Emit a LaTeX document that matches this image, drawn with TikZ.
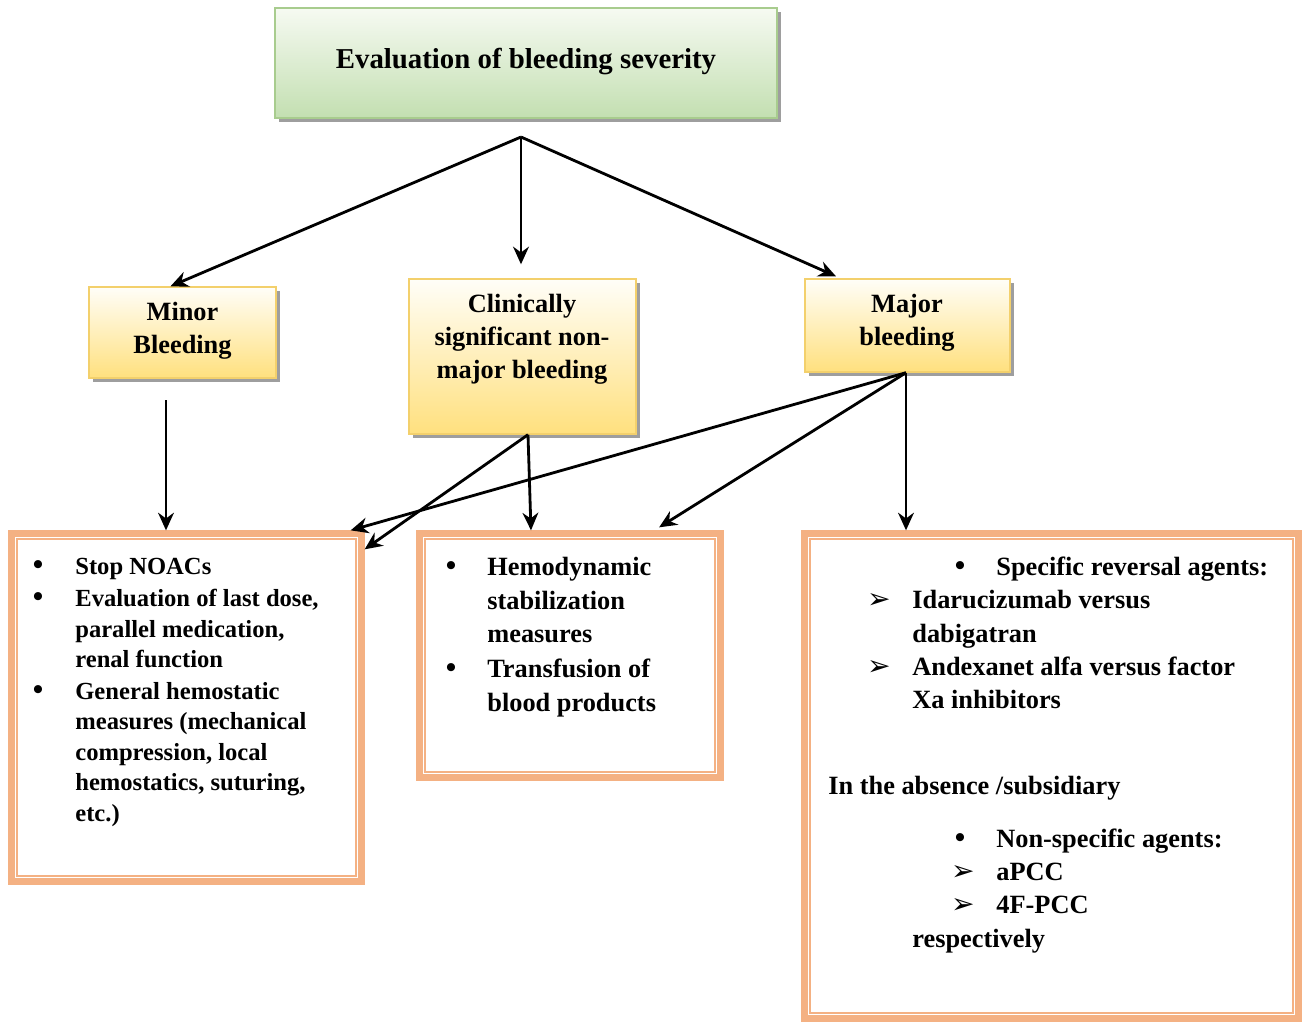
\documentclass[tikz,border=0pt]{standalone}
\usepackage{fontspec}
\setmainfont{Liberation Serif}
\newfontfamily\dingfont{DejaVu Sans}
\usetikzlibrary{arrows.meta,shadows,calc}
\definecolor{grtop}{HTML}{F6FAF2}
\definecolor{grbot}{HTML}{C3DFB1}
\definecolor{grline}{HTML}{A8CC8E}
\definecolor{yetop}{HTML}{FFFEF8}
\definecolor{yebot}{HTML}{FFE07E}
\definecolor{yeline}{HTML}{F3D06C}
\definecolor{salmon}{HTML}{F4B183}
\newcommand\tline[5]{\node[#1,anchor=base west] (#2) at (#3,#4) {#5};}
\newcommand\bul[3]{\node[bullettxt,anchor=base] (#1) at (#2,#3) {•};}
\newcommand\arw[3]{\node[arrowtxt,anchor=base] (#1) at (#2,#3) {\dingfont ➢};}
\begin{document}
\begin{tikzpicture}[x=0.02cm,y=-0.02cm,
  arr/.style={line width=1.6pt,-{Stealth[length=10pt,width=9pt]}},
  shd/.style={drop shadow={shadow xshift=2pt,shadow yshift=-2pt,fill=black!38,opacity=1}},
  greenbox/.style={draw=grline,line width=0.8pt,top color=grtop,bottom color=grbot,shd,inner sep=0pt},
  yellowbox/.style={draw=yeline,line width=0.8pt,top color=yetop,bottom color=yebot,shd,inner sep=0pt},
  outerbox/.style={draw=salmon,line width=3.6pt,fill=white,inner sep=0pt},
  innerline/.style={draw=salmon,line width=1pt},
  headtxt/.style={align=center,inner sep=0pt,font=\fontsize{15}{18.7}\selectfont\bfseries},
  ltxt/.style={inner sep=0pt,font=\fontsize{14}{17}\selectfont\bfseries},
  mtxt/.style={inner sep=0pt,font=\fontsize{15}{18}\selectfont\bfseries},
  bullettxt/.style={inner sep=0pt,font=\fontsize{17}{17}\selectfont\bfseries},
  arrowtxt/.style={inner sep=0pt,font=\fontsize{16}{16}\selectfont},
]
\useasboundingbox (0,0) rectangle (1306,1024);

% top box
\node[greenbox,minimum width={502*0.02cm},minimum height={110*0.02cm}] (top) at (526,63) {};
\node[inner sep=0pt,font=\fontsize{16.4}{20}\selectfont\bfseries] (toptxt) at (526,62) {Evaluation of bleeding severity};

% middle boxes
\node[yellowbox,minimum width={187*0.02cm},minimum height={91*0.02cm}] (minor) at (182.5,332.5) {};
\node[headtxt] (minortxt) at (182.5,331) {Minor\\Bleeding};
\node[yellowbox,minimum width={227*0.02cm},minimum height={155*0.02cm}] (clin) at (522.5,356.5) {};
\node[headtxt] (clintxt) at (522,339) {Clinically\\significant non-\\major bleeding};
\node[yellowbox,minimum width={205*0.02cm},minimum height={93*0.02cm}] (major) at (907.5,325.5) {};
\node[headtxt] (majortxt) at (907,323) {Major\\bleeding};

% bottom boxes
\node[outerbox,minimum width={350*0.02cm},minimum height={348*0.02cm}] (bl) at (186.5,707.5) {};
\draw[innerline] ($(bl.north west)+(8.5,8.5)$) rectangle ($(bl.south east)+(-8.5,-8.5)$);
\node[outerbox,minimum width={301*0.02cm},minimum height={244*0.02cm}] (bm) at (570,655.5) {};
\draw[innerline] ($(bm.north west)+(8.5,8.5)$) rectangle ($(bm.south east)+(-8.5,-8.5)$);
\node[outerbox,minimum width={494*0.02cm},minimum height={485*0.02cm}] (br) at (1051.5,776) {};
\draw[innerline] ($(br.north west)+(8.5,8.5)$) rectangle ($(br.south east)+(-8.5,-8.5)$);

% connectors
\coordinate (fork) at (521,137);
\coordinate (minorout) at (166,400);
\draw[arr] (fork) -- ($(minor.north)+(-12,0)$);
\draw[arr] (fork) -- ($(clin.north)+(-1.5,-14)$);
\draw[arr] (fork) -- ($(major.north)+(-71.5,-2)$);
\draw[arr] (minorout) -- (minorout |- bl.north);
\draw[arr] ($(clin.south)+(5.5,0)$) -- ($(bm.north)+(-39,0)$);
\draw[arr] ($(clin.south)+(5.5,0)$) -- ($(bl.north east)+(0,19)$);
\draw[arr] ($(major.south)+(-1.5,0)$) -- ($(bl.north east)+(-14,0)$);
\draw[arr] ($(major.south)+(-1.5,0)$) -- ($(bm.north east)+(-64.5,-3)$);
\draw[arr] ($(major.south)+(-1.5,0)$) -- ($(br.north)+(-145.5,0)$);

% left box text
\bul{lb1}{38}{574}
\tline{ltxt}{lt1}{75}{574}{Stop NOACs}
\bul{lb2}{38}{606}
\tline{ltxt}{lt2}{75}{606}{Evaluation of last dose,}
\tline{ltxt}{lt3}{75}{637}{parallel medication,}
\tline{ltxt}{lt4}{75}{667}{renal function}
\bul{lb3}{38}{699}
\tline{ltxt}{lt5}{75}{699}{General hemostatic}
\tline{ltxt}{lt6}{75}{729}{measures (mechanical}
\tline{ltxt}{lt7}{75}{760}{compression, local}
\tline{ltxt}{lt8}{75}{790}{hemostatics, suturing,}
\tline{ltxt}{lt9}{75}{821}{etc.)}

% middle box text
\bul{mb1}{451}{575}
\tline{mtxt}{mt1}{487}{575}{Hemodynamic}
\tline{mtxt}{mt2}{487}{609}{stabilization}
\tline{mtxt}{mt3}{487}{642}{measures}
\bul{mb2}{451}{677}
\tline{mtxt}{mt4}{487}{677}{Transfusion of}
\tline{mtxt}{mt5}{487}{711}{blood products}

% right box text
\bul{rb1}{960}{575}
\tline{mtxt}{rt1}{996}{575}{Specific reversal agents:}
\arw{ra1}{879}{608}
\tline{mtxt}{rt2}{912}{608}{Idarucizumab versus}
\tline{mtxt}{rt3}{912}{642}{dabigatran}
\arw{ra2}{879}{675}
\tline{mtxt}{rt4}{912}{675}{Andexanet alfa versus factor}
\tline{mtxt}{rt5}{912}{708}{Xa inhibitors}
\tline{mtxt}{rt6}{828}{794}{In the absence /subsidiary}
\bul{rb2}{960}{847}
\tline{mtxt}{rt7}{996}{847}{Non-specific agents:}
\arw{ra3}{963}{880}
\tline{mtxt}{rt8}{996}{880}{aPCC}
\arw{ra4}{963}{913}
\tline{mtxt}{rt9}{996}{913}{4F-PCC}
\tline{mtxt}{rt10}{912}{947}{respectively}
\end{tikzpicture}
\end{document}
